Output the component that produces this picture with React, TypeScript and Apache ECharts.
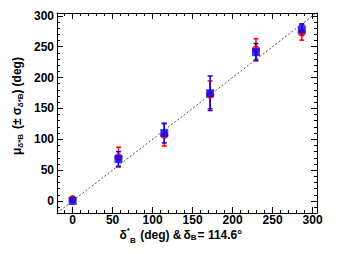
import React, { useEffect, useRef } from "react";
import * as echarts from "echarts";

// ---- data ----
const deltaTrue = [0, 57.3, 114.6, 171.9, 229.2, 286.5];
const redMean = [3, 71, 107, 172, 246, 273];
const redErr = [4, 16, 18, 22.5, 17, 12.5];
const blueMean = [0, 68, 110, 174.5, 241, 278];
const blueErr = [2, 12, 16, 28, 14, 9];

const X_MIN = -19.5;
const X_MAX = 305.5;
const Y_MIN = -19.5;
const Y_MAX = 304.5;
const MAJOR = 50;

const FONT = '"Liberation Sans", Arial, Helvetica, sans-serif';

type Seg = { t: string; s: number; dy?: number; gap?: number };

const xTitleSegs: Seg[] = [
  { t: "δ", s: 12 },
  { t: "*", s: 8, dy: -4 },
  { t: "B", s: 8, dy: 6 },
  { t: "(deg) &", s: 12, gap: 4.5 },
  { t: "δ", s: 12, gap: 2 },
  { t: "B", s: 8, dy: 3 },
  { t: "= 114.6°", s: 12, gap: 1 },
];

const yTitleSegs: Seg[] = [
  { t: "μ", s: 12 },
  { t: "δ*B", s: 8, dy: 4 },
  { t: "(±", s: 12, gap: 5 },
  { t: "σ", s: 12, gap: 3 },
  { t: "δ*B", s: 8, dy: 4 },
  { t: ")", s: 12 },
  { t: "(deg)", s: 12, gap: 3 },
];

let measureCtx: CanvasRenderingContext2D | null = null;
function textWidth(t: string, size: number): number {
  if (!measureCtx) measureCtx = document.createElement("canvas").getContext("2d");
  if (!measureCtx) return t.length * size * 0.6;
  measureCtx.font = `bold ${size}px ${FONT}`;
  return measureCtx.measureText(t).width;
}

function buildTitle(segs: Seg[], x: number, y: number, rotation: number) {
  let cx = 0;
  const children: any[] = [];
  segs.forEach((sg) => {
    cx += sg.gap || 0;
    children.push({
      type: "text",
      x: cx,
      y: sg.dy || 0,
      style: {
        text: sg.t,
        font: `bold ${sg.s}px ${FONT}`,
        fill: "#000",
        textAlign: "left",
        textVerticalAlign: "middle",
      },
    });
    cx += textWidth(sg.t, sg.s);
  });
  return { type: "group", x, y, rotation, children };
}

function errBar(color: string) {
  return (params: any, api: any) => {
    const x = api.value(0);
    const y = api.value(1);
    const e = api.value(2);
    const top = api.coord([x, y + e]);
    const bot = api.coord([x, y - e]);
    const hw = 2.5;
    const st = { stroke: color, lineWidth: 1.5 };
    return {
      type: "group",
      children: [
        { type: "line", shape: { x1: top[0], y1: top[1], x2: bot[0], y2: bot[1] }, style: st },
        { type: "line", shape: { x1: top[0] - hw, y1: top[1], x2: top[0] + hw, y2: top[1] }, style: st },
        { type: "line", shape: { x1: bot[0] - hw, y1: bot[1], x2: bot[0] + hw, y2: bot[1] }, style: st },
      ],
    };
  };
}

const labelFmt = (v: number) => (Math.abs(v % MAJOR) < 1e-6 ? String(v) : "");

function axisCommon(showLabel: boolean, margin: number) {
  return {
    type: "value",
    axisLine: { show: true, onZero: false, lineStyle: { color: "#000", width: 1 } },
    axisTick: { show: true, inside: true, length: 6, lineStyle: { color: "#000", width: 1 } },
    minorTick: { show: true, splitNumber: 5, length: 3, lineStyle: { color: "#000", width: 1 } },
    splitLine: { show: false },
    minorSplitLine: { show: false },
    axisLabel: {
      show: showLabel,
      formatter: labelFmt,
      fontFamily: FONT,
      fontWeight: "bold",
      fontSize: 12,
      color: "#000",
      margin,
    },
  };
}

export default function App() {
  const ref = useRef<HTMLDivElement>(null);
  useEffect(() => {
    if (!ref.current) return;
    const chart = echarts.init(ref.current, null, { renderer: "svg" });
    const redData = deltaTrue.map((x, i) => [x, redMean[i], redErr[i]]);
    const blueData = deltaTrue.map((x, i) => [x, blueMean[i], blueErr[i]]);
    const diag = [
      [X_MIN, Y_MIN],
      [X_MAX, X_MAX],
    ];
    chart.setOption({
      animation: false,
      backgroundColor: "#fff",
      grid: { left: 57, right: 36, top: 13, bottom: 41, show: false },
      xAxis: [
        { ...axisCommon(true, 1), position: "bottom", min: X_MIN, max: X_MAX },
        { ...axisCommon(false, 1), position: "top", min: X_MIN, max: X_MAX },
      ],
      yAxis: [
        { ...axisCommon(true, 3), position: "left", min: Y_MIN, max: Y_MAX },
        { ...axisCommon(false, 3), position: "right", min: Y_MIN, max: Y_MAX },
      ],
      graphic: [buildTitle(xTitleSegs, 119.5, 234.5, 0), buildTitle(yTitleSegs, 16.5, 155, Math.PI / 2)],
      series: [
        {
          type: "line",
          data: diag,
          symbol: "none",
          lineStyle: { color: "#555", width: 1, type: [2, 2] },
          silent: true,
        },
        {
          type: "custom",
          data: redData,
          renderItem: errBar("#ff0000"),
          encode: { x: 0, y: 1 },
        },
        {
          type: "scatter",
          data: redData.map((d) => [d[0], d[1]]),
          symbol: "circle",
          symbolSize: 8,
          itemStyle: { color: "#ff0000" },
        },
        {
          type: "custom",
          data: blueData,
          renderItem: errBar("#0000ff"),
          encode: { x: 0, y: 1 },
        },
        {
          type: "scatter",
          data: blueData.map((d) => [d[0], d[1]]),
          symbol: "rect",
          symbolSize: 8,
          itemStyle: { color: "#0000ff" },
        },
      ],
    });
    return () => chart.dispose();
  }, []);
  return (
    <div
      ref={ref}
      style={{ position: "absolute", left: 0, top: 0, width: 353, height: 254 }}
    />
  );
}
